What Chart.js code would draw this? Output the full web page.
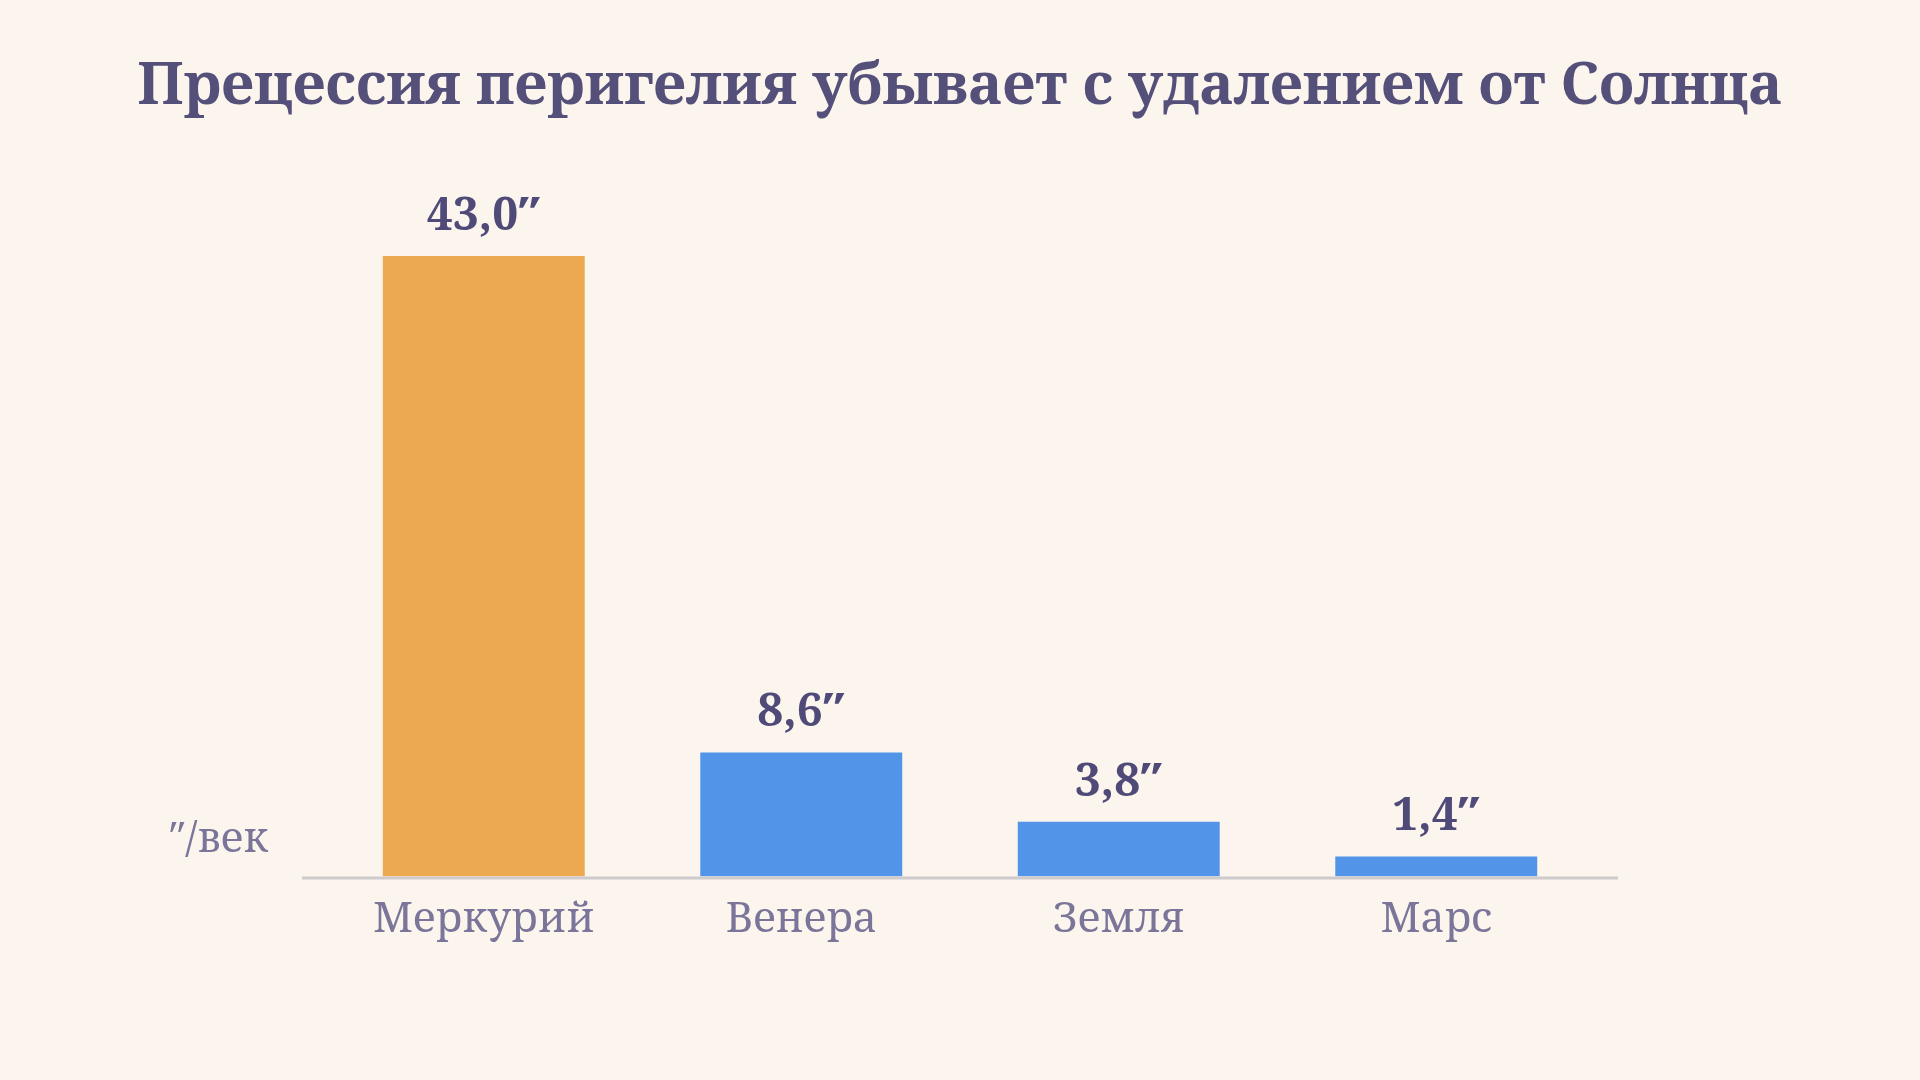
<!DOCTYPE html>
<html lang="ru">
<head>
<meta charset="utf-8">
<title>Прецессия перигелия</title>
<script src="https://cdn.jsdelivr.net/npm/chart.js@4/dist/chart.umd.min.js"></script>
<style>
  html, body { margin: 0; padding: 0; background: #fbf5ee; }
  #wrap { width: 1920px; height: 1080px; }
</style>
</head>
<body>
<div id="wrap"><canvas id="chart" width="1920" height="1080"></canvas></div>
<script>
const TITLE = "Прецессия перигелия убывает с удалением от Солнца";
const UNIT = "″/век";
const planets = ["Меркурий", "Венера", "Земля", "Марс"];
const precession = [43.0, 8.6, 3.8, 1.4];

const FONT = "'Noto Serif', 'DejaVu Serif', serif";
const ORANGE = "#eca951";
const BLUE = "#5294e8";
const INK = "#55507a";
const MUTED = "#7a7599";
const AXIS = "#cfcacb";

const fmt = v => v.toFixed(1).replace(".", ",") + "″";

// title is drawn here: the built-in one gets squeezed to the padded box width
const decor = {
  id: "decor",
  afterDatasetsDraw(chart) {
    const { ctx, chartArea: a, width } = chart;
    ctx.save();
    ctx.fillStyle = INK;
    ctx.font = `bold 58px ${FONT}`;
    ctx.textAlign = "center";
    ctx.textBaseline = "alphabetic";
    ctx.fillText(TITLE, width / 2, 104);

    // baseline, a little wider than the plot
    ctx.strokeStyle = AXIS;
    ctx.lineWidth = 3;
    ctx.beginPath();
    ctx.moveTo(a.left - 23, a.bottom + 1.5);
    ctx.lineTo(a.right + 23, a.bottom + 1.5);
    ctx.stroke();

    // value labels
    ctx.fillStyle = "#4f4a78";
    ctx.font = `bold 46px ${FONT}`;
    chart.getDatasetMeta(0).data.forEach((bar, i) => {
      ctx.fillText(fmt(precession[i]), bar.x, bar.y - 26);
    });

    // unit
    ctx.fillStyle = MUTED;
    ctx.font = `42px ${FONT}`;
    ctx.textAlign = "right";
    ctx.fillText(UNIT, a.left - 57, a.bottom - 25);
    ctx.restore();
  }
};

new Chart(document.getElementById("chart"), {
  type: "bar",
  data: {
    labels: planets,
    datasets: [{
      data: precession,
      backgroundColor: c => (c.dataIndex === 0 ? ORANGE : BLUE),
      borderWidth: 0,
      categoryPercentage: 1,
      barPercentage: 0.636,
    }],
  },
  options: {
    responsive: false,
    animation: false,
    devicePixelRatio: 1,
    layout: { padding: { top: 155, left: 325, right: 325, bottom: 117 } },
    scales: {
      x: {
        grid: { display: false, drawTicks: false },
        border: { display: false },
        ticks: { color: MUTED, font: { family: FONT, size: 42 }, padding: 18 },
      },
      y: { display: false, min: 0, max: 50 },
    },
    plugins: {
      legend: { display: false },
      tooltip: { enabled: false },
      title: { display: false },
    },
  },
  plugins: [decor],
});
</script>
</body>
</html>
